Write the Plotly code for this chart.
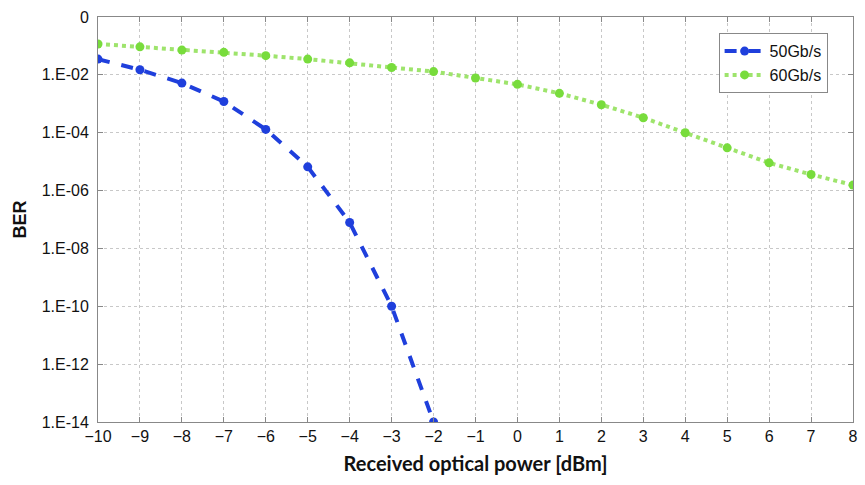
import plotly.graph_objects as go

power_dbm = [-10, -9, -8, -7, -6, -5, -4, -3, -2, -1, 0, 1, 2, 3, 4, 5, 6, 7, 8]

power_50 = [-10, -9, -8, -7, -6, -5, -4, -3, -2]
ber_50 = [3.5e-2, 1.5e-2, 5.2e-3, 1.2e-3, 1.3e-4, 6.6e-6, 7.9e-8, 1.0e-10, 1.0e-14]

ber_60 = [1.17e-1, 9.3e-2, 7.2e-2, 6.0e-2, 4.6e-2, 3.5e-2, 2.6e-2, 1.8e-2, 1.3e-2,
          7.8e-3, 4.7e-3, 2.3e-3, 9.3e-4, 3.3e-4, 1.0e-4, 3.0e-5, 9.1e-6, 3.6e-6, 1.55e-6]

y_tickvals = [1, 1e-2, 1e-4, 1e-6, 1e-8, 1e-10, 1e-12, 1e-14]
y_ticktext = ["0", "1.E-02", "1.E-04", "1.E-06", "1.E-08", "1.E-10", "1.E-12", "1.E-14"]
x_tickvals = list(range(-10, 9))

fig = go.Figure()
fig.add_trace(go.Scatter(
    x=power_50, y=ber_50, name="50Gb/s", mode="lines+markers",
    line=dict(color="#1f3fdc", width=4, dash="dash"),
    marker=dict(color="#1f3fdc", size=9),
))
fig.add_trace(go.Scatter(
    x=power_dbm, y=ber_60, name="60Gb/s", mode="lines+markers",
    line=dict(color="#9ee46c", width=4, dash="dot"),
    marker=dict(color="#78dc3c", size=9),
))

axis_common = dict(
    showline=True, linecolor="#888888", linewidth=1, mirror="ticks",
    ticks="inside", ticklen=5, tickcolor="#888888",
    showgrid=True, gridcolor="#c8c8c8", griddash="dot", gridwidth=1,
    zeroline=False,
    tickfont=dict(family="Arial", size=16, color="#111111"),
)

fig.update_layout(
    width=865, height=485,
    margin=dict(l=98, r=7, t=17, b=63),
    paper_bgcolor="white", plot_bgcolor="white",
    xaxis=dict(
        range=[-10, 8], tickvals=x_tickvals,
        title=dict(text="<b>Received optical power [dBm]</b>",
                   font=dict(family="Lato", size=20, color="#111111"),
                   standoff=12),
        **axis_common,
    ),
    yaxis=dict(
        type="log", range=[-14, 0], tickvals=y_tickvals, ticktext=y_ticktext,
        ticklabelstandoff=5,
        title=dict(text="<b>BER</b>",
                   font=dict(family="Arial", size=18, color="#111111"),
                   standoff=10),
        **axis_common,
    ),
    legend=dict(
        x=0.822, y=0.96, xanchor="left", yanchor="top",
        bordercolor="#888888", borderwidth=1, bgcolor="white",
        font=dict(family="Arial", size=16, color="#111111"),
        itemwidth=40, tracegroupgap=2,
    ),
    showlegend=True,
)

fig.write_html("out.html")
